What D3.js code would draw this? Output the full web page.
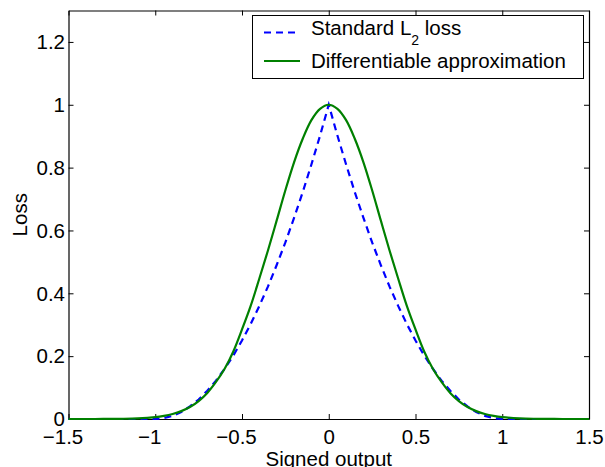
<!DOCTYPE html>
<html><head><meta charset="utf-8">
<script src="https://cdn.jsdelivr.net/npm/d3@7/dist/d3.min.js"></script>
<style>body{margin:0;background:#fff}svg{display:block}</style>
</head><body>
<svg id="chart" width="605" height="467"></svg>
<script>
const xs = [-1.5,-1.4,-1.3,-1.2,-1.1,-1,-0.95,-0.9,-0.85,-0.8,-0.75,-0.7,-0.65,-0.6,-0.55,-0.5,-0.45,-0.4,-0.35,-0.3,-0.25,-0.2,-0.15,-0.1,-0.05,0,
            0.05,0.1,0.15,0.2,0.25,0.3,0.35,0.4,0.45,0.5,0.55,0.6,0.65,0.7,0.75,0.8,0.85,0.9,0.95,1,1.1,1.2,1.3,1.4,1.5];
const l2Loss = [0,0,0,0,0,0,0.003,0.01,0.022,0.04,0.062,0.09,0.122,0.16,0.202,0.25,0.302,0.36,0.422,0.49,0.562,0.64,0.722,0.81,0.902,1,
                0.902,0.81,0.722,0.64,0.562,0.49,0.422,0.36,0.302,0.25,0.202,0.16,0.122,0.09,0.062,0.04,0.022,0.01,0.003,0,0,0,0,0,0];
const approxLoss = [0,0,0.0002,0.0007,0.002,0.006,0.01,0.016,0.025,0.038,0.057,0.083,0.118,0.16,0.215,0.285,0.36,0.447,0.537,0.632,0.728,0.817,0.892,0.951,0.987,1,
                    0.987,0.951,0.892,0.817,0.728,0.632,0.537,0.447,0.36,0.285,0.215,0.16,0.118,0.083,0.057,0.038,0.025,0.016,0.01,0.006,0.002,0.0007,0.0002,0,0];
const xTicks = [-1.5,-1,-0.5,0,0.5,1,1.5];
const xTickLabels = ["\u22121.5","\u22121","\u22120.5","0","0.5","1","1.5"];
const yTicks = [0,0.2,0.4,0.6,0.8,1,1.2];
const yTickLabels = ["0","0.2","0.4","0.6","0.8","1","1.2"];
const seriesNames = ["Standard L", "Differentiable approximation"];
const xLabel = "Signed output";
const yLabel = "Loss";

const FONT = '"Liberation Sans", Arial, Helvetica, sans-serif';
const FS = 20.5;
const svg = d3.select("#chart").attr("font-family", FONT);
const L = 68.5, R = 589, T = 10.5, B = 419;
const x = d3.scaleLinear().domain([-1.5, 1.5]).range([L, R]);
const y = d3.scaleLinear().domain([0, 1.3]).range([B, T]);

svg.append("rect").attr("width",605).attr("height",467).attr("fill","#fff");

// axes
const gx = svg.append("g").attr("transform", `translate(0,${B})`)
  .call(d3.axisBottom(x).tickValues(xTicks).tickFormat((d,i)=>xTickLabels[i]).tickSizeInner(-5).tickSizeOuter(0));
const gxt = svg.append("g").attr("transform", `translate(0,${T})`)
  .call(d3.axisTop(x).tickValues(xTicks).tickFormat("").tickSizeInner(-5).tickSizeOuter(0));
const gy = svg.append("g").attr("transform", `translate(${L},0)`)
  .call(d3.axisLeft(y).tickValues(yTicks).tickFormat((d,i)=>yTickLabels[i]).tickSizeInner(-5).tickSizeOuter(0));
const gyr = svg.append("g").attr("transform", `translate(${R},0)`)
  .call(d3.axisRight(y).tickValues(yTicks).tickFormat("").tickSizeInner(-5).tickSizeOuter(0));
[gx,gxt,gy,gyr].forEach(g=>{
  g.select(".domain").attr("stroke","#000").attr("stroke-width",1.2);
  g.selectAll(".tick line").attr("stroke","#000").attr("stroke-width",1);
  g.selectAll("text").attr("font-family",FONT).attr("font-size",FS).attr("fill","#000");
});
gx.selectAll(".tick text").attr("y", 25).attr("dy", 0)
  .attr("dx", (d,i)=> xTickLabels[i].startsWith("\u2212") ? -6 : 0);
gy.selectAll(".tick text").attr("x", -3.5).attr("dy", "0.33em");

// lines
const lineL2 = d3.line().x((d,i)=>x(xs[i])).y(d=>y(d)).curve(d3.curveLinear);
const lineAp = d3.line().x((d,i)=>x(xs[i])).y(d=>y(d)).curve(d3.curveCatmullRom.alpha(0.5));
svg.append("path").datum(l2Loss).attr("d", lineL2).attr("fill","none")
  .attr("stroke","#0000ff").attr("stroke-width",2.2).attr("stroke-dasharray","7,5");
svg.append("path").datum(approxLoss).attr("d", lineAp).attr("fill","none")
  .attr("stroke","#008000").attr("stroke-width",2.2);

// axis labels
svg.append("text").attr("x", x(0)).attr("y", 465.5).attr("text-anchor","middle")
  .attr("font-size",FS).text(xLabel);
svg.append("text").attr("transform",`translate(27,${(T+B)/2}) rotate(-90)`).attr("text-anchor","middle")
  .attr("font-size",FS).text(yLabel);

// legend
const lg = svg.append("g");
lg.append("rect").attr("x",252.5).attr("y",15.5).attr("width",331).attr("height",63)
  .attr("fill","#fff").attr("stroke","#000").attr("stroke-width",1);
lg.append("line").attr("x1",264).attr("x2",300).attr("y1",32.5).attr("y2",32.5)
  .attr("stroke","#0000ff").attr("stroke-width",2.2).attr("stroke-dasharray","7,5");
lg.append("line").attr("x1",264).attr("x2",300).attr("y1",61).attr("y2",61)
  .attr("stroke","#008000").attr("stroke-width",2.2);
const t1 = lg.append("text").attr("x",311).attr("y",35).attr("font-size",FS);
t1.append("tspan").text(seriesNames[0]);
t1.append("tspan").attr("dy",10).attr("font-size",14).text("2");
t1.append("tspan").attr("dy",-10).text(" loss");
lg.append("text").attr("x",311).attr("y",67.5).attr("font-size",FS).text(seriesNames[1]);
</script>
</body></html>
